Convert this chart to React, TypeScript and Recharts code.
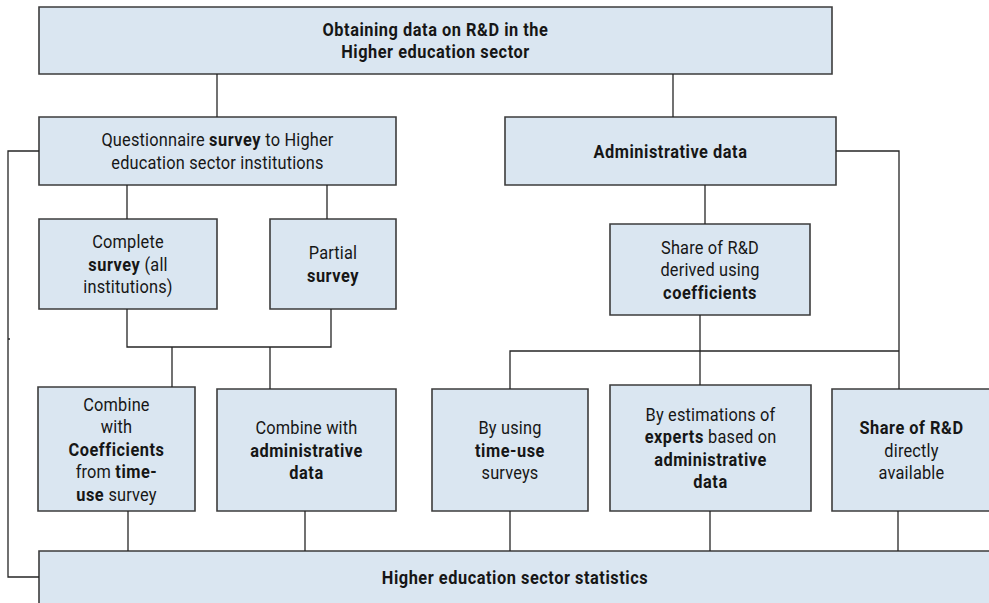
import React from "react";
import { ComposedChart, XAxis, YAxis, ReferenceArea, Line, Scatter } from "recharts";

// Flowchart laid out in a 989 x 603 coordinate space (y grows downward)
const nodes = [
  { x1: 39, x2: 832, y1: 7, y2: 74, lines: ["**Obtaining data on R&D in the**", "**Higher education sector**"] },
  { x1: 39, x2: 396, y1: 117, y2: 185, lines: ["Questionnaire **survey** to Higher", "education sector institutions"] },
  { x1: 505, x2: 836, y1: 117, y2: 185, lines: ["**Administrative data**"] },
  { x1: 39, x2: 217, y1: 219, y2: 309, lines: ["Complete", "**survey** (all", "institutions)"] },
  { x1: 270, x2: 396, y1: 219, y2: 309, lines: ["Partial", "**survey**"] },
  { x1: 610, x2: 810, y1: 224, y2: 315, lines: ["Share of R&D", "derived using", "**coefficients**"] },
  { x1: 38, x2: 195, y1: 387, y2: 511, lines: ["Combine", "with", "**Coefficients**", "from **time-**", "**use** survey"] },
  { x1: 217, x2: 396, y1: 389, y2: 511, lines: ["Combine with", "**administrative**", "**data**"] },
  { x1: 432, x2: 588, y1: 389, y2: 511, lines: ["By using", "**time-use**", "surveys"] },
  { x1: 610, x2: 811, y1: 385, y2: 511, lines: ["By estimations of", "**experts** based on", "**administrative**", "**data**"] },
  { x1: 832, x2: 991, y1: 389, y2: 511, lines: ["**Share of R&D**", "directly", "available"] },
  { x1: 39, x2: 991, y1: 551, y2: 604, lines: ["**Higher education sector statistics**"] },
];

// connectors, each a polyline of [x, y] points
const links: number[][][] = [
  [[217, 74], [217, 117]],
  [[673, 74], [673, 117]],
  [[39, 151], [8, 151], [8, 577], [39, 577]],
  [[8, 339], [10, 339]],
  [[127, 185], [127, 219]],
  [[327, 185], [327, 219]],
  [[127, 309], [127, 347], [331, 347], [331, 309]],
  [[172, 347], [172, 387]],
  [[270, 347], [270, 389]],
  [[705, 185], [705, 224]],
  [[836, 151], [899, 151], [899, 389]],
  [[700, 315], [700, 385]],
  [[510, 389], [510, 351], [899, 351]],
  [[128, 511], [128, 551]],
  [[305, 511], [305, 551]],
  [[510, 511], [510, 551]],
  [[710, 511], [710, 551]],
  [[898, 511], [898, 551]],
];

const FONT = "Roboto, 'Liberation Sans', sans-serif";
const FONT_SIZE = 18.5;
const LINE_H = 22.5;
const SQUEEZE = 0.885; // fake a condensed face

const BoxText = (props: any) => {
  const { cx, cy, payload } = props;
  const lines: string[] = payload.lines;
  const n = lines.length;
  return (
    <text
      textAnchor="middle"
      fontFamily={FONT}
      fontSize={FONT_SIZE}
      fill="#161616"
      transform={`translate(${cx} 0) scale(${SQUEEZE} 1) translate(${-cx} 0)`}
    >
      {lines.map((line, i) => {
        const parts = line.split("**");
        return (
          <tspan key={i} x={cx} y={cy + (i - (n - 1) / 2) * LINE_H + FONT_SIZE * 0.36}>
            {parts.map((p, j) =>
              p === "" ? null : (
                <tspan key={j} fontWeight={j % 2 === 1 ? 700 : 400} letterSpacing={j % 2 === 1 ? 0.6 : 0.2}>
                  {p}
                </tspan>
              )
            )}
          </tspan>
        );
      })}
    </text>
  );
};

export default function App() {
  const centers = nodes.map((b) => ({ x: (b.x1 + b.x2) / 2, y: (b.y1 + b.y2) / 2, lines: b.lines }));
  return (
    <div style={{ position: "absolute", left: 0, top: 0, background: "#fff" }}>
      <ComposedChart width={989} height={603} margin={{ top: 0, right: 0, bottom: 0, left: 0 }}>
        <XAxis type="number" dataKey="x" domain={[0, 989]} allowDataOverflow hide />
        <YAxis type="number" dataKey="y" domain={[0, 603]} allowDataOverflow reversed hide />
        {links.map((pts, i) => (
          <Line
            key={`l${i}`}
            data={pts.map(([x, y]) => ({ x, y }))}
            dataKey="y"
            type="linear"
            stroke="#262626"
            strokeWidth={1.3}
            dot={false}
            activeDot={false}
            legendType="none"
            isAnimationActive={false}
          />
        ))}
        {nodes.map((b, i) => (
          <ReferenceArea
            key={`b${i}`}
            x1={b.x1}
            x2={b.x2}
            y1={b.y1}
            y2={b.y2}
            ifOverflow="hidden"
            fill="#dae6f1"
            fillOpacity={1}
            stroke="#3c3c3c"
            strokeWidth={1.6}
          />
        ))}
        <Scatter data={centers} dataKey="y" shape={BoxText} isAnimationActive={false} legendType="none" />
      </ComposedChart>
    </div>
  );
}
